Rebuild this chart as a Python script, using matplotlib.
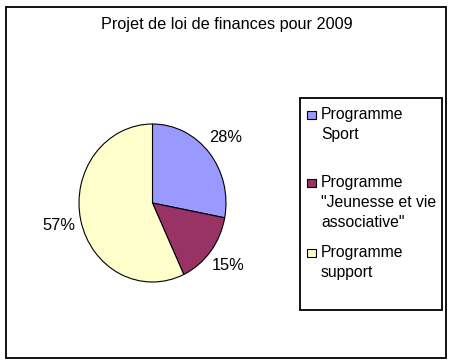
import matplotlib
matplotlib.use("Agg")
import matplotlib.pyplot as plt
from matplotlib.patches import Rectangle

plt.rcParams['font.family'] = ['Liberation Sans', 'DejaVu Sans']

title = "Projet de loi de finances pour 2009"
labels = ["Programme\nSport", "Programme\n\"Jeunesse et vie\nassociative\"", "Programme\nsupport"]
values = [28, 15, 57]
colors = ["#9999FF", "#993366", "#FFFFCC"]

W, H = 454, 364
fig = plt.figure(figsize=(W / 100, H / 100), dpi=100)

def fx(px):
    return px / W

def fy(py):
    return 1 - py / H

# outer border
fig.patches.append(Rectangle((fx(6), fy(358)), fx(446) - fx(6), fy(7) - fy(358),
                             transform=fig.transFigure, fill=False, edgecolor='black', linewidth=1.3))

fig.text(fx(227), fy(25), title, ha='center', va='center', fontsize=11.7, color='black')

# pie axes: pixel box x 79..226, y 124..282
ax = fig.add_axes([fx(79), fy(282), fx(226) - fx(79), fy(124) - fy(282)])
ax.pie(values, colors=colors, startangle=90, counterclock=False,
       autopct=lambda p: f"{p:.0f}%", pctdistance=1.3,
       wedgeprops=dict(edgecolor='black', linewidth=0.8),
       textprops=dict(fontsize=11.8, color='black'))
ax.set_xlim(-1, 1)
ax.set_ylim(-1, 1)
ax.set_aspect('auto')
ax.axis('off')

# legend box
fig.patches.append(Rectangle((fx(300), fy(310)), fx(442) - fx(300), fy(98) - fy(310),
                             transform=fig.transFigure, fill=False, edgecolor='black', linewidth=1.3))
item_tops = [115, 183, 253]
line_h = 19.5
for lab, col, ytop in zip(labels, colors, item_tops):
    fig.patches.append(Rectangle((fx(307), fy(ytop + 4)), fx(316) - fx(307), fy(ytop - 4) - fy(ytop + 4),
                                 transform=fig.transFigure, facecolor=col, edgecolor='black', linewidth=0.8))
    for i, line in enumerate(lab.split("\n")):
        fig.text(fx(321), fy(ytop + i * line_h), line, ha='left', va='center', fontsize=11.3, color='black')

fig.savefig("out.png", dpi=100)
